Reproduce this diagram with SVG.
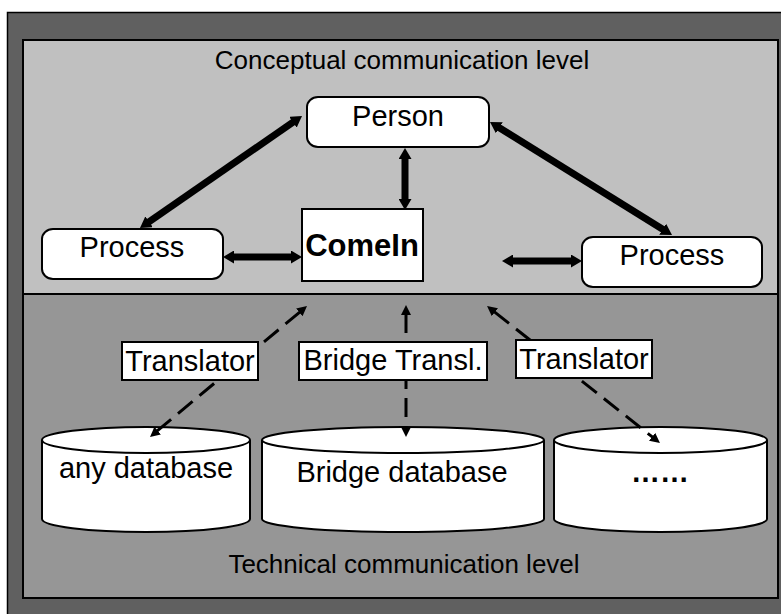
<svg xmlns="http://www.w3.org/2000/svg" width="781" height="614" viewBox="0 0 781 614">
<defs>
<style>
text{font-family:"Liberation Sans",Arial,sans-serif;fill:#000}
.lbl{font-size:29px;text-anchor:middle}
.lvl{font-size:26px;text-anchor:middle}
.node{fill:#fff;stroke:#000;stroke-width:2}
.thick{stroke:#000;stroke-width:7;fill:none;marker-start:url(#hb);marker-end:url(#hb)}
.dash{stroke:#000;stroke-width:3;fill:none;stroke-dasharray:19 9;marker-start:url(#hs);marker-end:url(#hs)}
</style>
<marker id="hb" markerUnits="userSpaceOnUse" viewBox="0 0 11 13" markerWidth="11" markerHeight="13" refX="1" refY="6.5" orient="auto-start-reverse">
<path d="M0,0 L11,6.5 L0,13 Z" fill="#000"/>
</marker>
<marker id="hs" markerUnits="userSpaceOnUse" viewBox="0 0 10 10" markerWidth="10" markerHeight="10" refX="1" refY="5" orient="auto-start-reverse">
<path d="M0,0 L10,5 L0,10 Z" fill="#000"/>
</marker>
</defs>

<g id="background">
<rect x="7.5" y="12.5" width="790" height="620" fill="#606060" stroke="#000" stroke-width="1.5"/>
<rect x="23" y="40" width="755" height="254" fill="#c0c0c0" stroke="#000" stroke-width="2"/>
<rect x="23" y="294" width="755" height="304" fill="#969696" stroke="#000" stroke-width="2"/>
<text class="lvl" x="402" y="69">Conceptual communication level</text>
<text class="lvl" x="404" y="573">Technical communication level</text>
</g>

<g id="db-any">
<path class="node" d="M42,440 L42,519 A104,13 0 0 0 250,519 L250,440 A104,13 0 0 0 42,440 Z"/>
<path d="M42,440 A104,13 0 0 0 250,440" fill="none" stroke="#000" stroke-width="2"/>
<text class="lbl" x="146" y="478">any database</text>
</g>
<g id="db-bridge">
<path class="node" d="M262,440 L262,519 A141,13 0 0 0 544,519 L544,440 A141,13 0 0 0 262,440 Z"/>
<path d="M262,440 A141,13 0 0 0 544,440" fill="none" stroke="#000" stroke-width="2"/>
<text class="lbl" x="402" y="482">Bridge database</text>
</g>
<g id="db-other">
<path class="node" d="M554,440 L554,519 A106.5,13 0 0 0 767,519 L767,440 A106.5,13 0 0 0 554,440 Z"/>
<path d="M554,440 A106.5,13 0 0 0 767,440" fill="none" stroke="#000" stroke-width="2"/>
<text class="lbl" x="660" y="482" font-weight="bold">……</text>
</g>

<g id="person">
<rect class="node" x="307" y="97" width="182" height="50" rx="11" ry="10"/>
<text class="lbl" x="398" y="126">Person</text>
</g>
<g id="process-left">
<rect class="node" x="42" y="229" width="181" height="50" rx="11" ry="10"/>
<text class="lbl" x="132" y="257">Process</text>
</g>
<g id="process-right">
<rect class="node" x="582" y="237" width="180" height="50" rx="11" ry="10"/>
<text class="lbl" x="672" y="265">Process</text>
</g>
<g id="comein">
<rect class="node" x="302" y="209" width="121" height="72"/>
<text x="362" y="256" font-size="31" font-weight="bold" text-anchor="middle">ComeIn</text>
</g>

<g id="connectors">
<line class="thick" x1="293.8" y1="121.7" x2="148.2" y2="222.3"/>
<line class="thick" x1="498.5" y1="127.3" x2="663.5" y2="229.7"/>
<line class="thick" x1="405" y1="158" x2="405" y2="200"/>
<line class="thick" x1="233" y1="257" x2="292" y2="257"/>
<line class="thick" x1="512" y1="261" x2="572" y2="261"/>
<line class="dash" x1="300.1" y1="311.8" x2="156.9" y2="431.2"/>
<line class="dash" x1="406" y1="314" x2="406" y2="428"/>
<line class="dash" x1="494.1" y1="311.6" x2="652.9" y2="437.4"/>
</g>

<g id="translator-left">
<rect class="node" x="122" y="342" width="136" height="38"/>
<text class="lbl" x="190" y="371">Translator</text>
</g>
<g id="bridge-transl">
<rect class="node" x="299" y="342" width="188" height="38"/>
<text class="lbl" x="393" y="370">Bridge Transl.</text>
</g>
<g id="translator-right">
<rect class="node" x="516" y="340" width="136" height="38"/>
<text class="lbl" x="584" y="369">Translator</text>
</g>
</svg>
